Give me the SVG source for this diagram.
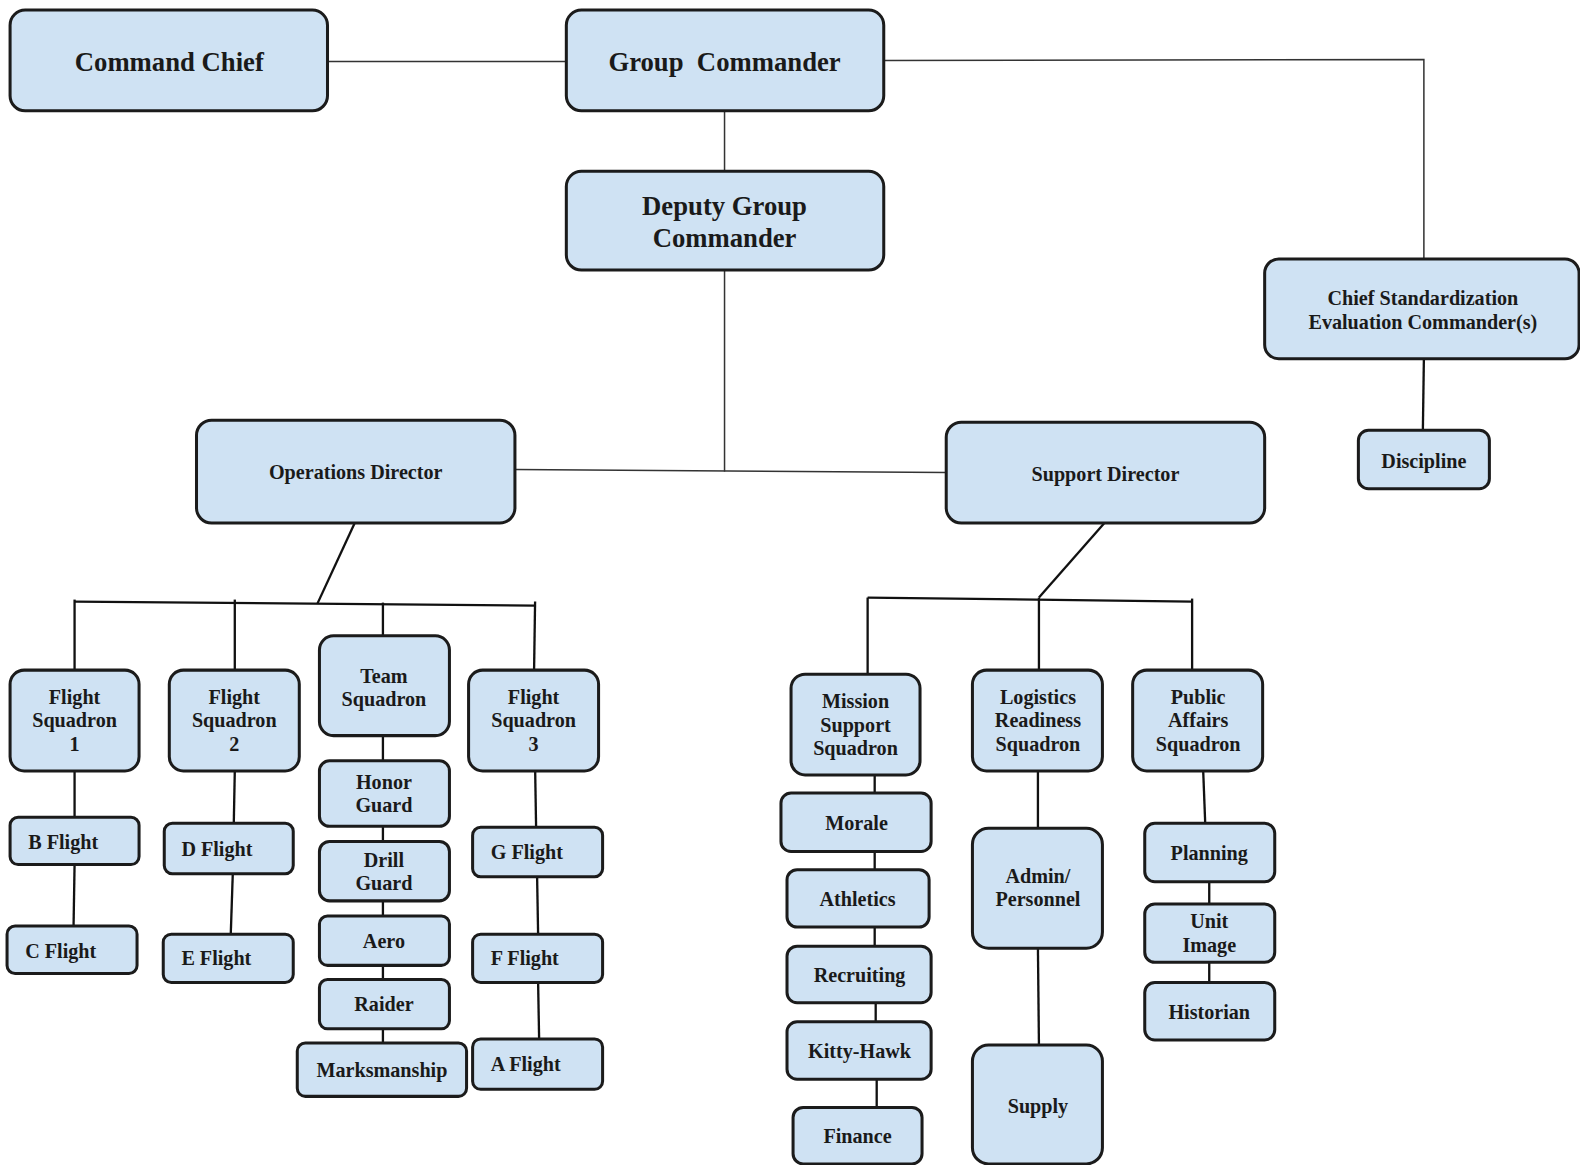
<svg xmlns="http://www.w3.org/2000/svg" width="1580" height="1165" viewBox="0 0 1580 1165">
  <style>
    .box { fill:#cfe2f3; stroke:#1b1b1b; stroke-width:3; }
    .t { font-family:"Liberation Serif","Times New Roman",serif; font-weight:bold; fill:#1a1a1a; text-anchor:middle; }
    .s { text-anchor:start; }
    .big { font-size:26.5px; }
    .sm { font-size:20px; }
    .l1 { stroke:#333; stroke-width:1.5; fill:none; }
    .l2 { stroke:#111; stroke-width:2.3; fill:none; }
  </style>
  <rect width="1580" height="1165" fill="#ffffff"/>
  <g transform="scale(1.0077)">
    <!-- connectors -->
    <g id="connectors">
      <line class="l1" x1="325" y1="61" x2="562" y2="61"/>
      <polyline class="l1" points="877,60 1413,59 1413,257"/>
      <line class="l1" x1="719" y1="110" x2="719" y2="170"/>
      <line class="l1" x1="719" y1="268" x2="719" y2="468"/>
      <line class="l1" x1="511" y1="466" x2="939" y2="469"/>
      <line class="l2" x1="1413" y1="356" x2="1412" y2="427"/>
      <!-- operations branch -->
      <line class="l2" x1="352" y1="519" x2="315" y2="599"/>
      <line class="l2" x1="74" y1="597" x2="531" y2="601"/>
      <line class="l2" x1="74" y1="595" x2="74" y2="665"/>
      <line class="l2" x1="233" y1="595" x2="233" y2="665"/>
      <line class="l2" x1="380" y1="598" x2="380" y2="631"/>
      <line class="l2" x1="531" y1="597" x2="530" y2="665"/>
      <line class="l2" x1="74" y1="765" x2="74" y2="811"/>
      <line class="l2" x1="74" y1="858" x2="73" y2="919"/>
      <line class="l2" x1="233" y1="765" x2="232" y2="817"/>
      <line class="l2" x1="231" y1="867" x2="229" y2="927"/>
      <line class="l2" x1="380" y1="730" x2="380" y2="755"/>
      <line class="l2" x1="380" y1="820" x2="380" y2="835"/>
      <line class="l2" x1="380" y1="894" x2="380" y2="909"/>
      <line class="l2" x1="380" y1="958" x2="380" y2="972"/>
      <line class="l2" x1="380" y1="1021" x2="380" y2="1035"/>
      <line class="l2" x1="531" y1="760" x2="532" y2="821"/>
      <line class="l2" x1="533" y1="870" x2="534" y2="927"/>
      <line class="l2" x1="534" y1="975" x2="535" y2="1031"/>
      <!-- support branch -->
      <line class="l2" x1="1096" y1="519" x2="1031" y2="593"/>
      <line class="l2" x1="861" y1="593" x2="1183" y2="597"/>
      <line class="l2" x1="861" y1="593" x2="861" y2="669"/>
      <line class="l2" x1="1031" y1="593" x2="1031" y2="665"/>
      <line class="l2" x1="1183" y1="594" x2="1183" y2="665"/>
      <line class="l2" x1="868" y1="769" x2="868" y2="787"/>
      <line class="l2" x1="868" y1="845" x2="868" y2="863"/>
      <line class="l2" x1="868" y1="920" x2="868" y2="939"/>
      <line class="l2" x1="869" y1="995" x2="869" y2="1014"/>
      <line class="l2" x1="870" y1="1071" x2="870" y2="1099"/>
      <line class="l2" x1="1030" y1="765" x2="1030" y2="822"/>
      <line class="l2" x1="1030" y1="941" x2="1031" y2="1037"/>
      <line class="l2" x1="1194" y1="765" x2="1196" y2="817"/>
      <line class="l2" x1="1200" y1="875" x2="1200" y2="897" stroke-width="3"/>
      <line class="l2" x1="1200" y1="955" x2="1200" y2="975"/>
    </g>

    <!-- command level -->
    <g id="command-chief"><rect class="box" x="10" y="10" width="315" height="100" rx="15"/><text class="t big" x="168" y="70">Command Chief</text></g>
    <g id="group-commander"><rect class="box" x="562" y="10" width="315" height="100" rx="15"/><text class="t big" x="719" y="70">Group&#160; Commander</text></g>
    <g id="deputy-group-commander"><rect class="box" x="562" y="170" width="315" height="98" rx="15"/><text class="t big" x="719" y="213">Deputy Group</text><text class="t big" x="719" y="245">Commander</text></g>
    <g id="chief-standardization"><rect class="box" x="1255" y="257" width="312" height="99" rx="14"/><text class="t sm" x="1412" y="302.5">Chief Standardization</text><text class="t sm" x="1412" y="326.5">Evaluation Commander(s)</text></g>
    <g id="discipline"><rect class="box" x="1348" y="427" width="130" height="58" rx="10"/><text class="t sm" x="1413" y="464.5">Discipline</text></g>
    <g id="operations-director"><rect class="box" x="195" y="417" width="316" height="102" rx="15"/><text class="t sm" x="353" y="475.5">Operations Director</text></g>
    <g id="support-director"><rect class="box" x="939" y="419" width="316" height="100" rx="15"/><text class="t sm" x="1097" y="477.5">Support Director</text></g>

    <!-- operations squadrons -->
    <g id="flight-squadron-1"><rect class="box" x="10" y="665" width="128" height="100" rx="14"/><text class="t sm" x="74" y="698.5">Flight</text><text class="t sm" x="74" y="721.5">Squadron</text><text class="t sm" x="74" y="745.5">1</text></g>
    <g id="flight-squadron-2"><rect class="box" x="168" y="665" width="129" height="100" rx="14"/><text class="t sm" x="232.5" y="698.5">Flight</text><text class="t sm" x="232.5" y="721.5">Squadron</text><text class="t sm" x="232.5" y="745.5">2</text></g>
    <g id="team-squadron"><rect class="box" x="317" y="631" width="129" height="99" rx="14"/><text class="t sm" x="381" y="677.5">Team</text><text class="t sm" x="381" y="700.5">Squadron</text></g>
    <g id="flight-squadron-3"><rect class="box" x="465" y="665" width="129" height="100" rx="14"/><text class="t sm" x="529.5" y="698.5">Flight</text><text class="t sm" x="529.5" y="721.5">Squadron</text><text class="t sm" x="529.5" y="745.5">3</text></g>

    <g id="b-flight"><rect class="box" x="10" y="811" width="128" height="47" rx="8"/><text class="t sm s" x="28" y="842.5">B Flight</text></g>
    <g id="c-flight"><rect class="box" x="7" y="919" width="129" height="47" rx="8"/><text class="t sm s" x="25" y="950.5">C Flight</text></g>
    <g id="d-flight"><rect class="box" x="163" y="817" width="128" height="50" rx="8"/><text class="t sm s" x="180" y="849.5">D Flight</text></g>
    <g id="e-flight"><rect class="box" x="162" y="927" width="129" height="48" rx="8"/><text class="t sm s" x="180" y="957.5">E Flight</text></g>
    <g id="honor-guard"><rect class="box" x="317" y="755" width="129" height="65" rx="10"/><text class="t sm" x="381" y="782.5">Honor</text><text class="t sm" x="381" y="805.5">Guard</text></g>
    <g id="drill-guard"><rect class="box" x="317" y="835" width="129" height="59" rx="10"/><text class="t sm" x="381" y="860.5">Drill</text><text class="t sm" x="381" y="883.5">Guard</text></g>
    <g id="aero"><rect class="box" x="317" y="909" width="129" height="49" rx="8"/><text class="t sm" x="381" y="940.5">Aero</text></g>
    <g id="raider"><rect class="box" x="317" y="972" width="129" height="49" rx="8"/><text class="t sm" x="381" y="1003.5">Raider</text></g>
    <g id="marksmanship"><rect class="box" x="295" y="1035" width="168" height="53" rx="8"/><text class="t sm" x="379" y="1068.5">Marksmanship</text></g>
    <g id="g-flight"><rect class="box" x="469" y="821" width="129" height="49" rx="8"/><text class="t sm s" x="487" y="852.5">G Flight</text></g>
    <g id="f-flight"><rect class="box" x="469" y="927" width="129" height="48" rx="8"/><text class="t sm s" x="487" y="957.5">F Flight</text></g>
    <g id="a-flight"><rect class="box" x="469" y="1031" width="129" height="50" rx="8"/><text class="t sm s" x="487" y="1062.5">A Flight</text></g>

    <!-- support squadrons -->
    <g id="mission-support-squadron"><rect class="box" x="785" y="669" width="128" height="100" rx="14"/><text class="t sm" x="849" y="702.5">Mission</text><text class="t sm" x="849" y="726.5">Support</text><text class="t sm" x="849" y="749.5">Squadron</text></g>
    <g id="logistics-readiness-squadron"><rect class="box" x="965" y="665" width="129" height="100" rx="14"/><text class="t sm" x="1030" y="698.5">Logistics</text><text class="t sm" x="1030" y="721.5">Readiness</text><text class="t sm" x="1030" y="745.5">Squadron</text></g>
    <g id="public-affairs-squadron"><rect class="box" x="1124" y="665" width="129" height="100" rx="14"/><text class="t sm" x="1189" y="698.5">Public</text><text class="t sm" x="1189" y="721.5">Affairs</text><text class="t sm" x="1189" y="745.5">Squadron</text></g>

    <g id="morale"><rect class="box" x="775" y="787" width="149" height="58" rx="10"/><text class="t sm" x="850" y="823.5">Morale</text></g>
    <g id="athletics"><rect class="box" x="781" y="863" width="141" height="57" rx="10"/><text class="t sm" x="851" y="899.5">Athletics</text></g>
    <g id="recruiting"><rect class="box" x="781" y="939" width="143" height="56" rx="10"/><text class="t sm" x="853" y="974.5">Recruiting</text></g>
    <g id="kitty-hawk"><rect class="box" x="781" y="1014" width="143" height="57" rx="10"/><text class="t sm" x="853" y="1049.5">Kitty-Hawk</text></g>
    <g id="finance"><rect class="box" x="787" y="1099" width="128" height="56" rx="10"/><text class="t sm" x="851" y="1134.5">Finance</text></g>
    <g id="admin-personnel"><rect class="box" x="965" y="822" width="129" height="119" rx="16"/><text class="t sm" x="1030" y="876.5">Admin/</text><text class="t sm" x="1030" y="899.5">Personnel</text></g>
    <g id="supply"><rect class="box" x="965" y="1037" width="129" height="118" rx="16"/><text class="t sm" x="1030" y="1104.5">Supply</text></g>
    <g id="planning"><rect class="box" x="1136" y="817" width="129" height="58" rx="10"/><text class="t sm" x="1200" y="853.5">Planning</text></g>
    <g id="unit-image"><rect class="box" x="1136" y="897" width="129" height="58" rx="10"/><text class="t sm" x="1200" y="920.5">Unit</text><text class="t sm" x="1200" y="944.5">Image</text></g>
    <g id="historian"><rect class="box" x="1136" y="975" width="129" height="57" rx="10"/><text class="t sm" x="1200" y="1011.5">Historian</text></g>
  </g>
</svg>
